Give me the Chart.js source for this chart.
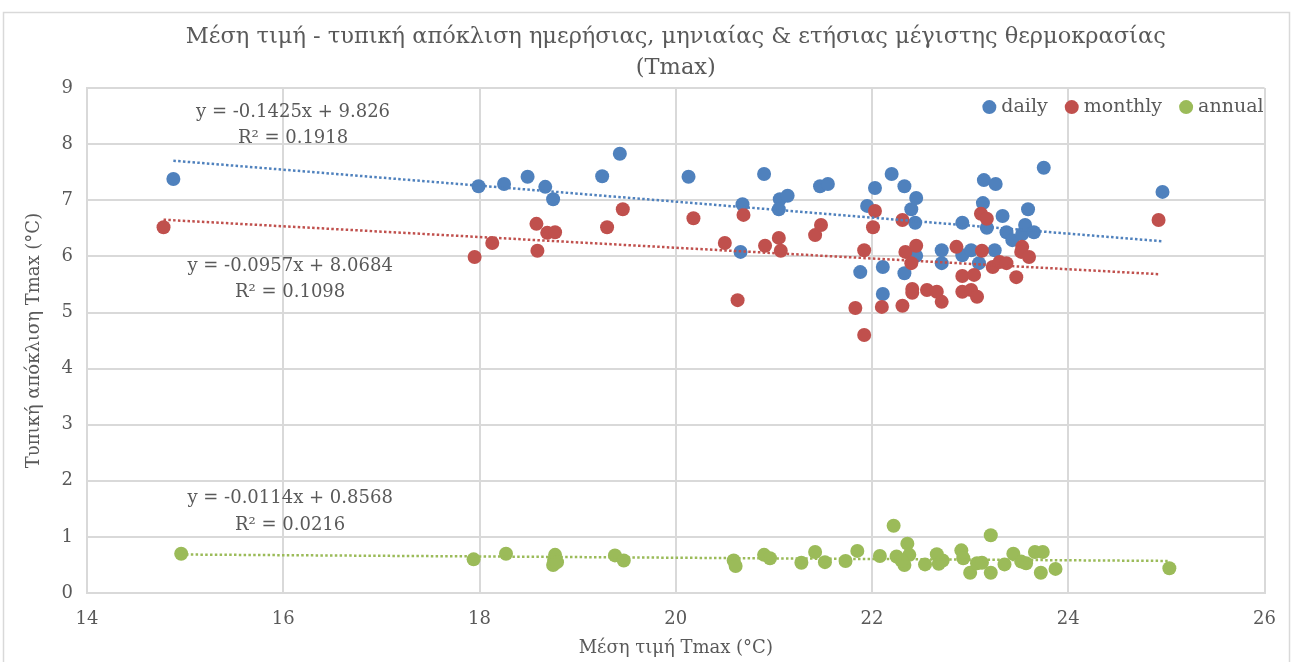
<!DOCTYPE html>
<html>
<head>
<meta charset="utf-8">
<script src="https://cdn.jsdelivr.net/npm/chart.js@4.4.1/dist/chart.umd.min.js"></script>
<style>
  html, body { margin: 0; padding: 0; background: #ffffff; }
  #wrap { position: relative; width: 1292px; height: 662px; }
</style>
</head>
<body>
<div id="wrap"><canvas id="myChart" width="1292" height="662"></canvas></div>
<script>
const chartTitle = ['Μέση τιμή - τυπική απόκλιση ημερήσιας, μηνιαίας & ετήσιας μέγιστης θερμοκρασίας', '(Tmax)'];
const xAxisLabel = 'Μέση τιμή Tmax (°C)';
const yAxisLabel = 'Τυπική απόκλιση Tmax (°C)';
const seriesNames = ['daily', 'monthly', 'annual'];
const seriesColors = ['#4f81bd', '#c0504d', '#9bbb59'];

// daily: mean Tmax vs std
const dailyX = [14.88, 17.99, 18.25, 18.49, 18.67, 18.75, 19.25, 19.43, 20.13, 20.68, 20.66, 20.90, 21.06, 21.14, 21.05, 21.47, 21.55,
    21.95, 22.03, 22.20, 21.88, 22.11, 22.11, 22.33, 22.45, 22.40, 22.44, 22.45, 22.33, 22.71, 22.71, 22.92, 22.92, 23.01, 23.25,
    23.09, 23.14, 23.26, 23.13, 23.17, 23.33, 23.37, 23.43, 23.53, 23.56, 23.59, 23.65, 23.75, 24.96];
const dailyY = [7.38, 7.25, 7.29, 7.42, 7.24, 7.02, 7.43, 7.83, 7.42, 6.93, 6.08, 7.47, 7.02, 7.08, 6.84, 7.25, 7.29,
    6.90, 7.22, 7.47, 5.72, 5.81, 5.33, 7.25, 7.04, 6.84, 6.60, 6.01, 5.70, 6.11, 5.88, 6.60, 6.02, 6.11, 6.11,
    5.88, 7.36, 7.29, 6.95, 6.51, 6.72, 6.43, 6.29, 6.40, 6.56, 6.84, 6.43, 7.58, 7.15];

const monthlyX = [14.78, 17.95, 18.13, 18.58, 18.59, 18.69, 18.77, 19.30, 19.46, 20.18, 20.50, 20.69, 20.63, 20.91, 21.05, 21.07,
    21.42, 21.48, 21.83, 21.92, 21.92, 22.01, 22.03, 22.10, 22.31, 22.31, 22.34, 22.45, 22.40, 22.41, 22.41, 22.56, 22.66, 22.71,
    22.86, 22.92, 23.01, 23.07, 22.92, 23.04, 23.12, 23.11, 23.17, 23.23, 23.30, 23.37, 23.47, 23.53, 23.52, 23.60, 24.92];
const monthlyY = [6.52, 5.99, 6.24, 6.58, 6.10, 6.42, 6.43, 6.52, 6.84, 6.68, 6.24, 6.74, 5.22, 6.19, 6.33, 6.10,
    6.38, 6.56, 5.08, 4.60, 6.11, 6.52, 6.81, 5.10, 6.65, 5.12, 6.08, 6.19, 5.88, 5.42, 5.35, 5.40, 5.37, 5.19,
    6.17, 5.37, 5.40, 5.28, 5.65, 5.67, 6.10, 6.76, 6.67, 5.81, 5.90, 5.88, 5.63, 6.17, 6.08, 5.99, 6.65];

const annualX = [14.96, 17.94, 18.27, 18.77, 18.76, 18.75, 18.79, 19.38, 19.47, 20.59, 20.61, 20.90, 20.96, 21.28, 21.42, 21.52,
    21.73, 21.85, 22.08, 22.22, 22.25, 22.36, 22.38, 22.33, 22.30, 22.54, 22.66, 22.68, 22.72, 22.91, 22.93, 23.00, 23.07, 23.12,
    23.21, 23.21, 23.35, 23.44, 23.52, 23.57, 23.66, 23.74, 23.72, 23.87, 25.03];
const annualY = [0.70, 0.60, 0.70, 0.68, 0.59, 0.50, 0.55, 0.67, 0.58, 0.58, 0.48, 0.68, 0.62, 0.54, 0.73, 0.55,
    0.57, 0.75, 0.66, 1.20, 0.65, 0.88, 0.68, 0.50, 0.58, 0.51, 0.69, 0.52, 0.58, 0.76, 0.62, 0.36, 0.53, 0.54,
    1.03, 0.36, 0.51, 0.70, 0.56, 0.53, 0.73, 0.73, 0.36, 0.43, 0.44];

// trendline coefficients as printed on the chart
const trendSlope = [-0.1425, -0.0957, -0.0114];
const trendIntercept = [9.826, 8.0684, 0.8568];
const trendLabels = [
    ['y = -0.1425x + 9.826', 'R² = 0.1918'],
    ['y = -0.0957x + 8.0684', 'R² = 0.1098'],
    ['y = -0.0114x + 0.8568', 'R² = 0.0216']
];
const labelAtX = [16.10, 16.07, 16.07];
const labelAtY = [8.57, 5.83, 1.68];

const xTicks = [14, 16, 18, 20, 22, 24, 26];
const yTicks = [0, 1, 2, 3, 4, 5, 6, 7, 8, 9];

const FONT = "'DejaVu Serif', serif";
const TEXT = '#595959';
const GRID = '#d9d9d9';

const allX = [dailyX, monthlyX, annualX];
const allY = [dailyY, monthlyY, annualY];

const datasets = [];
seriesNames.forEach((name, i) => {
    datasets.push({
        type: 'scatter',
        label: name,
        data: allX[i].map((x, j) => ({ x: x, y: allY[i][j] })),
        backgroundColor: seriesColors[i],
        borderColor: seriesColors[i],
        borderWidth: 0,
        pointRadius: 7,
        pointHoverRadius: 7,
        order: 3 - i
    });
});
seriesNames.forEach((name, i) => {
    const minX = Math.min(...allX[i]);
    const maxX = Math.max(...allX[i]);
    datasets.push({
        type: 'line',
        label: name + ' trend',
        data: [
            { x: minX, y: trendIntercept[i] + trendSlope[i] * minX },
            { x: maxX, y: trendIntercept[i] + trendSlope[i] * maxX }
        ],
        borderColor: seriesColors[i],
        borderWidth: 2.5,
        borderDash: [2.5, 2.3],
        fill: false,
        pointRadius: 0,
        order: 0
    });
});

// outer frame around the chart object
const framePlugin = {
    id: 'frame',
    beforeDraw(chart) {
        const ctx = chart.ctx;
        ctx.save();
        ctx.fillStyle = '#ffffff';
        ctx.fillRect(0, 0, chart.width, chart.height);
        ctx.strokeStyle = GRID;
        ctx.lineWidth = 1.5;
        ctx.strokeRect(3.5, 12.5, chart.width - 6, chart.height);
        ctx.restore();
    }
};

// trendline equations
const equationPlugin = {
    id: 'equations',
    afterDatasetsDraw(chart) {
        const ctx = chart.ctx;
        const xs = chart.scales.x, ys = chart.scales.y;
        ctx.save();
        ctx.fillStyle = TEXT;
        ctx.font = '18px ' + FONT;
        ctx.textAlign = 'center';
        ctx.textBaseline = 'middle';
        trendLabels.forEach((lines, i) => {
            const px = xs.getPixelForValue(labelAtX[i]);
            const py = ys.getPixelForValue(labelAtY[i]);
            lines.forEach((t, k) => ctx.fillText(t, px, py + k * 26.5));
        });
        ctx.restore();
    }
};

// legend inside the plot, top right
const legendPlugin = {
    id: 'insideLegend',
    afterDraw(chart) {
        const ctx = chart.ctx;
        const area = chart.chartArea;
        ctx.save();
        ctx.font = '19px ' + FONT;
        ctx.textBaseline = 'middle';
        ctx.textAlign = 'left';
        let x = area.right - 1;
        const y = area.top + 19;
        for (let i = seriesNames.length - 1; i >= 0; i--) {
            const w = ctx.measureText(seriesNames[i]).width;
            x -= w;
            ctx.fillStyle = TEXT;
            ctx.fillText(seriesNames[i], x, y);
            const cx = x - 12;
            ctx.fillStyle = seriesColors[i];
            ctx.beginPath();
            ctx.arc(cx, y, 7, 0, Math.PI * 2);
            ctx.fill();
            x = cx - 24;
        }
        ctx.restore();
    }
};

const ctx = document.getElementById('myChart').getContext('2d');
const myChart = new Chart(ctx, {
    data: { datasets: datasets },
    plugins: [framePlugin, equationPlugin, legendPlugin],
    options: {
        responsive: false,
        animation: false,
        devicePixelRatio: 1,
        layout: { padding: { left: 0, right: 26, top: 0, bottom: 0 } },
        plugins: {
            legend: { display: false },
            tooltip: { enabled: false },
            title: {
                display: true,
                text: chartTitle,
                color: TEXT,
                fullSize: false,
                font: { family: FONT, size: 22.5, weight: 'normal', lineHeight: 1.38 },
                padding: { top: 22, bottom: 4 }
            }
        },
        scales: {
            x: {
                type: 'linear',
                min: 14,
                max: 26,
                afterFit: (s) => { s.height = 69; },
                afterBuildTicks: (s) => { s.ticks = xTicks.map(v => ({ value: v })); },
                ticks: { color: TEXT, font: { family: FONT, size: 18 }, padding: 16 },
                grid: { color: GRID, lineWidth: 2, drawTicks: false },
                border: { color: GRID, width: 2 },
                title: {
                    display: true,
                    text: xAxisLabel,
                    color: TEXT,
                    font: { family: FONT, size: 18, lineHeight: 1.2 },
                    padding: { top: 0, bottom: 3 }
                }
            },
            y: {
                type: 'linear',
                min: 0,
                max: 9,
                afterFit: (s) => { s.width = 87; },
                afterBuildTicks: (s) => { s.ticks = yTicks.map(v => ({ value: v })); },
                ticks: { color: TEXT, font: { family: FONT, size: 18 }, padding: 14 },
                grid: { color: GRID, lineWidth: 2, drawTicks: false },
                border: { color: GRID, width: 2 },
                title: {
                    display: true,
                    text: yAxisLabel,
                    color: TEXT,
                    font: { family: FONT, size: 18, lineHeight: 1.2 },
                    padding: { top: 24, bottom: 0 }
                }
            }
        }
    }
});
</script>
</body>
</html>
